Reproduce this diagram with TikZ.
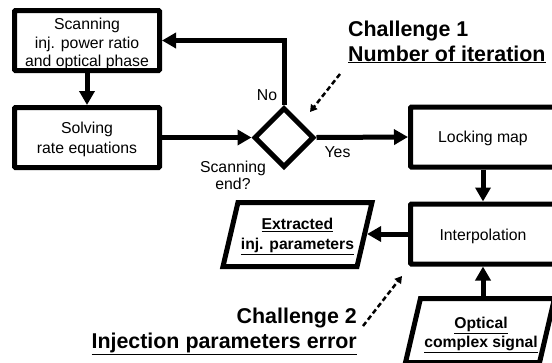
\documentclass[tikz,border=0pt]{standalone}
\usepackage{fontspec}
\setmainfont{Liberation Sans}
\usetikzlibrary{arrows.meta,shapes.geometric}
\newcommand\myfs{\fontsize{15.8pt}{20pt}\selectfont}
\newcommand\myfb{\bfseries\fontsize{15.7pt}{19.5pt}\selectfont}
\newcommand\myfc{\bfseries\fontsize{21.4pt}{25pt}\selectfont}
\begin{document}
\begin{tikzpicture}[x=1pt,y=-1pt,
  box/.style={draw,line width=5pt,rounded corners=1pt,minimum width=145pt,minimum height=60pt,inner sep=0pt},
  para/.style={trapezium,trapezium left angle=76,trapezium right angle=104,trapezium stretches body,draw,line width=5pt,minimum width=149pt,minimum height=64pt,text height=60pt,text depth=0pt,inner sep=0pt},
  dec/.style={diamond,draw,line width=5pt,minimum width=60pt,minimum height=60pt,inner sep=0pt},
  flow/.style={line width=5pt,-{Triangle[length=14pt,width=15pt]}},
  hint/.style={line width=2.5pt,dash pattern=on 5pt off 3pt,-{Triangle[length=7pt,width=8pt]}},
  txt/.style={font=\myfs,inner sep=0pt,align=center},
  btxt/.style={font=\myfb,inner sep=0pt,align=center},
  chal/.style={font=\myfc,inner sep=0pt}]
\useasboundingbox (0,0) rectangle (552,362);
\clip (0,0) rectangle (552,362);
% shapes
\node[box] (scan) at (87,40.5) {};
\node[box] (solve) at (87,137.5) {};
\node[dec] (dec) at (284,137.5) {};
\node[box] (lock) at (483,137) {};
\node[box] (interp) at (483,234) {};
\node[para] (ext) at (297.5,234.5) {};
\node[para] (opt) at (480,330.5) {};
% texts
\node[txt,font=\fontsize{15.8pt}{18.7pt}\selectfont] (scant) at (87,44) {Scanning\\inj. power ratio\\and optical phase};
\node[txt] (solvet) at (87,139) {Solving\\rate equations};
\node[txt] (lockt) at (483,138) {Locking map};
\node[txt] (interpt) at (483,236) {Interpolation};
\node[btxt] (extt) at (297.5,236.5) {\underline{Extracted}\\\underline{inj. parameters}};
\node[btxt] (optt) at (481,335) {\underline{Optical}\\\underline{complex signal}};
% connectors
\draw[flow] (dec.north) |- (scan.east);
\draw[flow] (scan.south) -- (solve.north);
\draw[flow] (solve.east) -- (dec.west);
\draw[flow] (dec.east) -- (lock.west);
\draw[flow] (lock.south) -- (interp.north);
\draw[flow] (interp.west) -- (interp.west -| ext.east);
\draw[flow] (opt.north -| interp.south) -- (interp.south);
% labels
\node[txt] (no) at (267,95) {No};
\node[txt] (yes) at (337.5,152) {Yes};
\node[txt,font=\fontsize{15.8pt}{17pt}\selectfont] (end) at (233,175) {Scanning\\end?};
\node[chal,anchor=base west] (c1a) at (348,36) {Challenge 1};
\node[chal,anchor=base west] (c1b) at (348,61) {\underline{Number of iteration}};
\node[chal,anchor=base east] (c2a) at (357,323) {Challenge 2};
\node[chal,anchor=base east] (c2b) at (357,348) {\underline{Injection parameters error}};
\coordinate (h1s) at (340,74);
\coordinate (h1e) at (310,112);
\draw[hint] (h1s) -- (h1e);
\coordinate (h2s) at (363,326);
\coordinate (h2e) at (402,276);
\draw[hint] (h2s) -- (h2e);
\end{tikzpicture}
\end{document}
